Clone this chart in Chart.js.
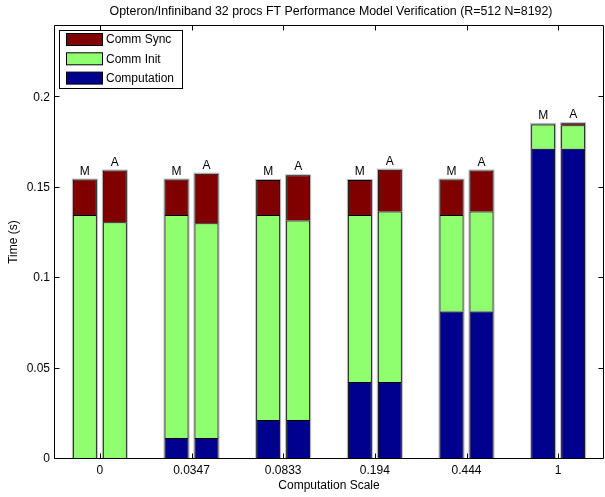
<!DOCTYPE html>
<html>
<head>
<meta charset="utf-8">
<script src="https://cdn.jsdelivr.net/npm/chart.js@4/dist/chart.umd.min.js"></script>
<style>
  html, body { margin: 0; padding: 0; background: #fff; }
  #wrap { width: 605px; height: 497px; }
</style>
</head>
<body>
<div id="wrap"><canvas id="c" width="605" height="497"></canvas></div>
<script>
// Computation scale categories
const categories = ['0', '0.0347', '0.0833', '0.194', '0.444', '1'];

// Model (M) breakdown, seconds
const modelComputation = [0, 0.0116, 0.0216, 0.0426, 0.0816, 0.1715];
const modelCommInit    = [0.1350, 0.1234, 0.1134, 0.0924, 0.0534, 0.0135];
const modelCommSync    = [0.0195, 0.0195, 0.0193, 0.0193, 0.0195, 0.0003];

// Actual (A) breakdown, seconds
const actualComputation = [0, 0.0116, 0.0216, 0.0426, 0.0816, 0.1715];
const actualCommInit    = [0.1309, 0.1187, 0.1103, 0.0942, 0.0552, 0.0130];
const actualCommSync    = [0.0286, 0.0275, 0.0250, 0.0232, 0.0227, 0.0012];

const yTicks = [0, 0.05, 0.1, 0.15, 0.2];
const yMax = 0.24;

const stackLabels = { M: 'M', A: 'A' };

const COLOR_SYNC = '#800000';
const COLOR_INIT = '#8fff70';
const COLOR_COMP = '#00008f';
const FONT = 'Liberation Sans, Arial, Helvetica, sans-serif';

function ds(label, data, color, stack) {
  return {
    label, data, stack,
    backgroundColor: color,
    borderColor: '#000',
    borderWidth: 1,
    borderSkipped: 'start',
    categoryPercentage: 0.654,
    barPercentage: 0.8
  };
}

const datasets = [
  ds('Computation', modelComputation, COLOR_COMP, 'M'),
  ds('Comm Init', modelCommInit, COLOR_INIT, 'M'),
  ds('Comm Sync', modelCommSync, COLOR_SYNC, 'M'),
  ds('Computation', actualComputation, COLOR_COMP, 'A'),
  ds('Comm Init', actualCommInit, COLOR_INIT, 'A'),
  ds('Comm Sync', actualCommSync, COLOR_SYNC, 'A')
];

// Thin grey halo around each bar, drawn underneath the bars
const barHalo = {
  id: 'barHalo',
  beforeDatasetsDraw(chart) {
    const ctx = chart.ctx;
    ctx.save();
    ctx.fillStyle = '#b8b8b8';
    chart.data.datasets.forEach((d, i) => {
      chart.getDatasetMeta(i).data.forEach(el => {
        const p = el.getProps(['x', 'y', 'base', 'width'], true);
        const top = Math.min(p.y, p.base), bot = Math.max(p.y, p.base);
        if (bot - top < 0.5) return;
        const left = p.x - p.width / 2;
        ctx.fillRect(left - 1, top - 1, p.width + 2, bot - top + 1);
      });
    });
    ctx.restore();
  }
};

// Axes box with inward tick marks on all four sides, plus M/A labels
const frameAndLabels = {
  id: 'frameAndLabels',
  afterDatasetsDraw(chart) {
    const ctx = chart.ctx;
    const a = chart.chartArea;
    const xs = chart.scales.x, ys = chart.scales.y;
    ctx.save();
    ctx.strokeStyle = '#000';
    ctx.lineWidth = 1;
    const L = Math.round(a.left) + 0.5, R = Math.round(a.right) - 0.5;
    const T = Math.round(a.top) + 0.5, B = Math.round(a.bottom) - 0.5;
    ctx.beginPath();
    ctx.rect(L, T, R - L, B - T);
    const tl = 5;
    yTicks.forEach(v => {
      const y = Math.round(ys.getPixelForValue(v)) - 0.5;
      ctx.moveTo(L, y); ctx.lineTo(L + tl, y);
      ctx.moveTo(R, y); ctx.lineTo(R - tl, y);
    });
    categories.forEach((c, i) => {
      const x = Math.round(xs.getPixelForValue(i)) + 0.5;
      ctx.moveTo(x, T); ctx.lineTo(x, T + tl);
      ctx.moveTo(x, B); ctx.lineTo(x, B - tl);
    });
    ctx.stroke();

    // M / A labels above each stack
    ctx.fillStyle = '#000';
    ctx.font = '12px ' + FONT;
    ctx.textAlign = 'center';
    ctx.textBaseline = 'alphabetic';
    ['M', 'A'].forEach(stack => {
      const idxs = chart.data.datasets.map((d, i) => i).filter(i => chart.data.datasets[i].stack === stack);
      categories.forEach((c, j) => {
        let top = Infinity, x = 0;
        idxs.forEach(i => {
          const el = chart.getDatasetMeta(i).data[j];
          const p = el.getProps(['x', 'y'], true);
          top = Math.min(top, p.y);
          x = p.x;
        });
        ctx.fillText(stackLabels[stack], x, top - 5);
      });
    });
    ctx.restore();
  },
  afterDraw(chart) {
    const ctx = chart.ctx;
    const a = chart.chartArea;
    ctx.save();
    // Title
    ctx.fillStyle = '#000';
    ctx.font = '12.4px ' + FONT;
    ctx.textAlign = 'center';
    ctx.textBaseline = 'middle';
    ctx.fillText('Opteron/Infiniband 32 procs FT Performance Model Verification (R=512 N=8192)', (a.left + a.right) / 2 + 2, 12);

    // Legend
    const entries = [['Comm Sync', COLOR_SYNC], ['Comm Init', COLOR_INIT], ['Computation', COLOR_COMP]];
    const bx = 59.5, by = 30.5, bw = 123, bh = 58;
    ctx.fillStyle = '#fff';
    ctx.fillRect(bx, by, bw, bh);
    ctx.strokeStyle = '#000';
    ctx.lineWidth = 1;
    ctx.strokeRect(bx, by, bw, bh);
    ctx.font = '12px ' + FONT;
    ctx.textAlign = 'left';
    entries.forEach(([t, col], i) => {
      const cy = 39.5 + i * 19.3;
      ctx.fillStyle = col;
      ctx.fillRect(66.5, cy - 6, 36, 12);
      ctx.strokeStyle = '#000';
      ctx.strokeRect(66.5, cy - 6, 36, 12);
      ctx.fillStyle = '#000';
      ctx.fillText(t, 106, cy + 0.5);
    });
    ctx.restore();
  }
};

new Chart(document.getElementById('c'), {
  type: 'bar',
  data: { labels: categories, datasets },
  options: {
    responsive: false,
    devicePixelRatio: 1,
    animation: false,
    layout: { padding: { top: 25, right: 1, left: 0, bottom: 0 } },
    plugins: {
      legend: { display: false },
      title: { display: false },
      tooltip: { enabled: false }
    },
    scales: {
      x: {
        stacked: true,
        offset: true,
        grid: { display: false, drawTicks: false },
        border: { display: false },
        ticks: { color: '#000', font: { family: FONT, size: 12 }, padding: 4, maxRotation: 0 },
        title: { display: true, text: 'Computation Scale', color: '#000', font: { family: FONT, size: 12 }, padding: { top: 0, bottom: 4 } },
        afterFit(s) { s.height = 38; }
      },
      y: {
        stacked: true,
        min: 0,
        max: yMax,
        grid: { display: false, drawTicks: false },
        border: { display: false },
        afterBuildTicks(s) { s.ticks = yTicks.map(v => ({ value: v })); },
        ticks: { color: '#000', font: { family: FONT, size: 12 }, padding: 4, callback: v => String(v) },
        title: { display: true, text: 'Time (s)', color: '#000', font: { family: FONT, size: 12 }, padding: { top: 6, bottom: 0 } },
        afterFit(s) { s.width = 54; }
      }
    }
  },
  plugins: [barHalo, frameAndLabels]
});
</script>
</body>
</html>
